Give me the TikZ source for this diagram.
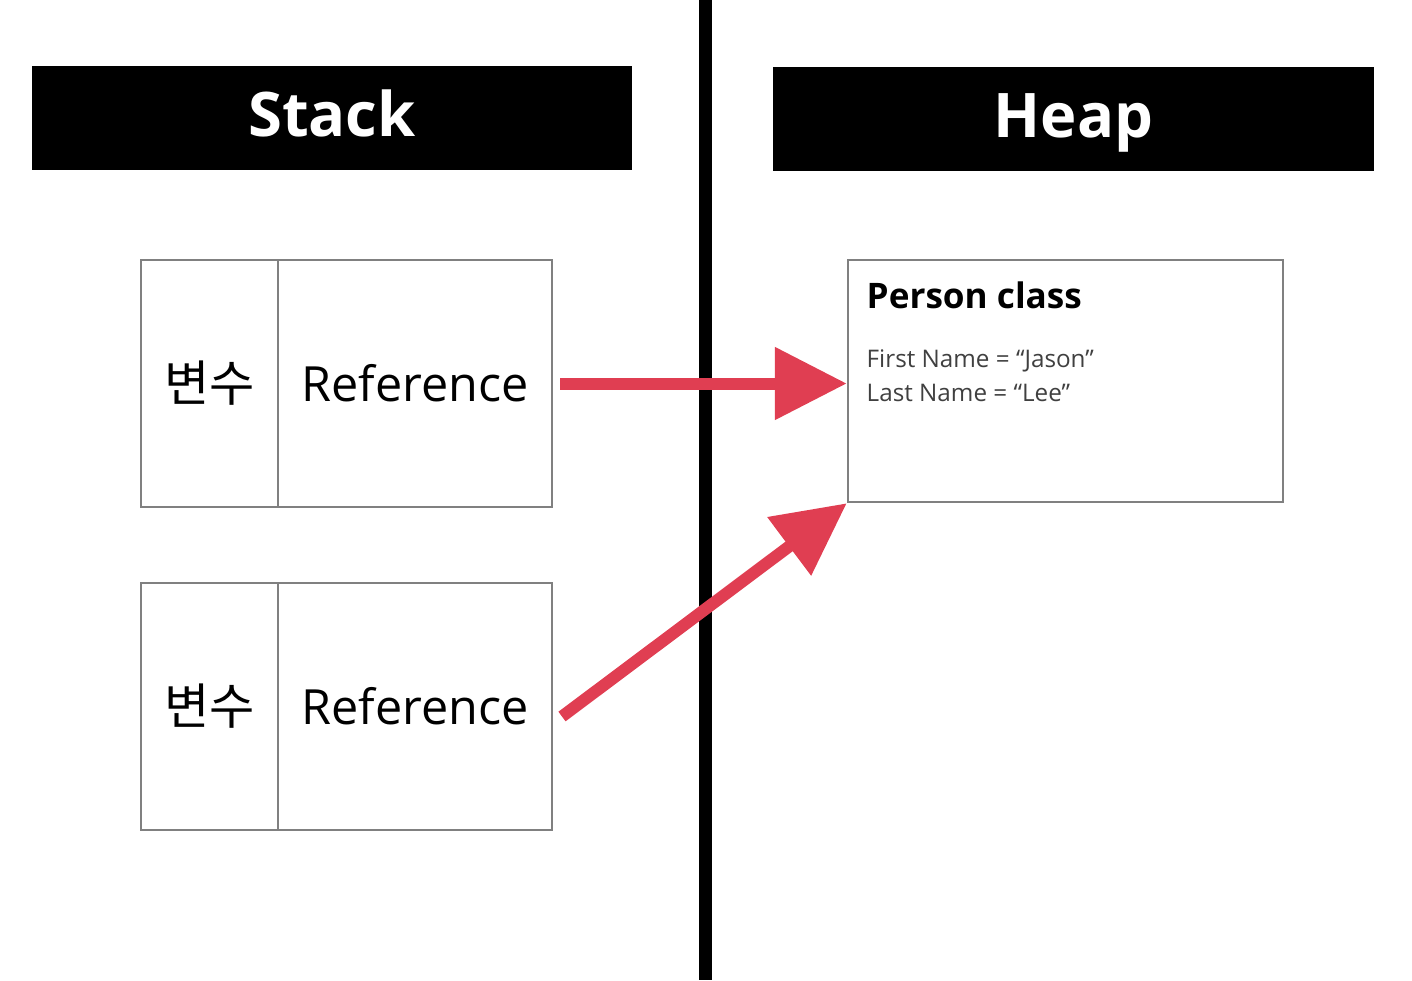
\documentclass[tikz,border=0pt]{standalone}
\usepackage{fontspec}
\setmainfont{Open Sans}
\newfontfamily\kofont{Noto Sans CJK KR}
\usetikzlibrary{arrows.meta, positioning}
\definecolor{memred}{RGB}{224, 62, 82}
\definecolor{memgray}{RGB}{128, 128, 128}
\definecolor{memtext}{RGB}{64, 64, 64}
\tikzstyle{header} = [rectangle, fill=black, text=white, minimum width=6cm, minimum height=1.04cm,
                      inner sep=0pt, text height=0.5cm, text depth=0.14cm, font=\fontsize{17.5}{21}\selectfont\bfseries]
\tikzstyle{cell} = [rectangle, draw=memgray, line width=0.7pt, minimum height=2.47cm, inner sep=0pt,
                    outer sep=0pt, font=\fontsize{13.8}{17}\selectfont]
\tikzstyle{refarrow} = [-{Triangle[length=0.72cm, width=0.7cm]}, line width=0.12cm, memred]

\begin{document}
\begin{tikzpicture}
\useasboundingbox (0,0) rectangle (14.12,9.8);

% Divider
\coordinate (divtop) at (7.055, 9.8);
\coordinate (divbot) at (7.055, 0);
\draw[line width=0.13cm] (divtop) -- (divbot);

% Headers
\node[header] (stackhead) at (3.32, 8.62) {Stack};
\node[header, minimum width=6.01cm] (heaphead) at (10.735, 8.61) {Heap};

% Stack cells
\node[cell, minimum width=1.37cm] (var1) at (2.095, 5.965) {\kofont\fontsize{14}{16}\selectfont 변수};
\node[cell, minimum width=2.74cm, right=0pt of var1] (ref1) {Reference};
\node[cell, minimum width=1.37cm] (var2) at (2.095, 2.735) {\kofont\fontsize{14}{16}\selectfont 변수};
\node[cell, minimum width=2.74cm, right=0pt of var2] (ref2) {Reference};

% Heap object
\node[rectangle, draw=memgray, line width=0.7pt, minimum width=4.35cm, minimum height=2.42cm] (person) at (10.655, 5.99) {};
\node[anchor=base west, inner sep=0pt, font=\fontsize{10}{12}\selectfont\bfseries] (ptitle) at (8.66, 6.72) {Person class};
\node[anchor=base west, inner sep=0pt, align=left, text=memtext, font=\fontsize{6.9}{9.4}\selectfont] (pfields) at (8.66, 5.79)
    {First Name = “Jason”\\Last Name = “Lee”};

% Arrows
\draw[refarrow] ([xshift=0.08cm]ref1.east) -- (ref1.east -| person.west);
\draw[refarrow] ([shift={(0.1,-0.1)}]ref2.east) -- (person.south west);

\end{tikzpicture}
\end{document}
